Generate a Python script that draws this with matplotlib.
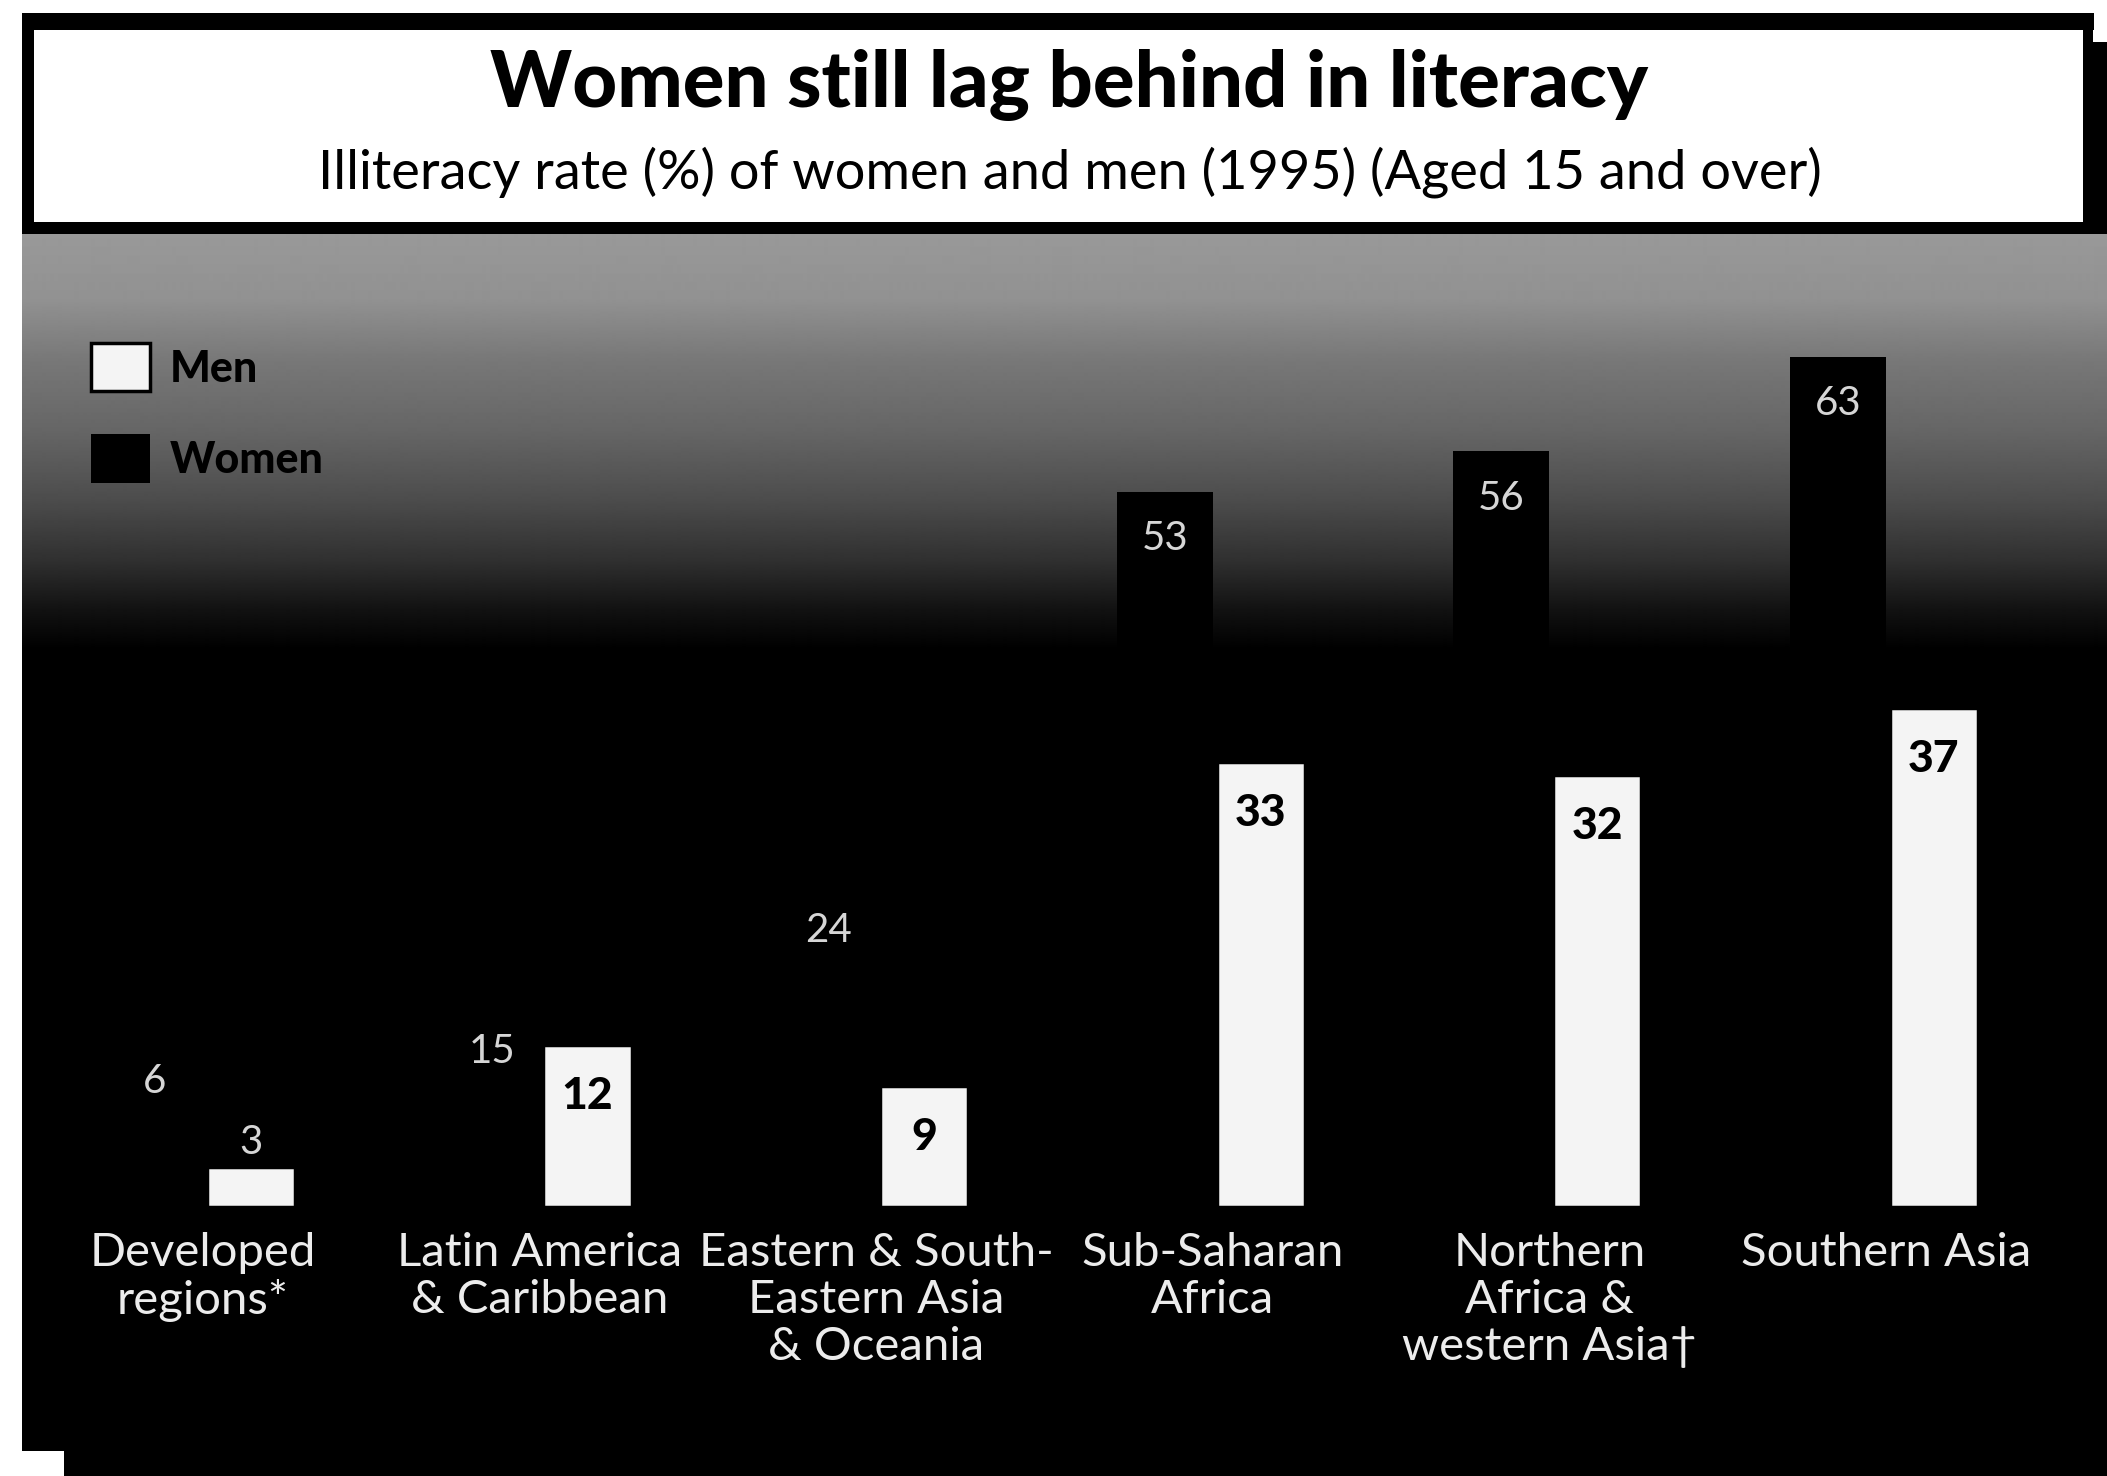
import matplotlib.pyplot as plt
import numpy as np
from matplotlib.patches import Rectangle

# data
regions = ["Developed\nregions*", "Latin America\n& Caribbean",
           "Eastern & South-\nEastern Asia\n& Oceania", "Sub-Saharan\nAfrica",
           "Northern\nAfrica &\nwestern Asia\u2020", "Southern Asia"]
women = [6, 15, 24, 53, 56, 63]
men = [3, 12, 9, 33, 32, 37]

title = "Women still lag behind in literacy"
subtitle = "Illiteracy rate (%) of women and men (1995) (Aged 15 and over)"

W, H = 2107, 1476
FONT = ['Lato', 'DejaVu Sans']
plt.rcParams['font.family'] = FONT

fig = plt.figure(figsize=(W / 100, H / 100), dpi=100)
fig.patch.set_facecolor('white')

# black chart panel under the title box
left_px, top_px = 22, 233
ax = fig.add_axes([left_px / W, 0, 1 - left_px / W, 1 - top_px / H])
ax.set_facecolor('black')

x = np.arange(len(regions))
bw = 0.285
px_per_x, x_first = 336.6, 203
xlim = ((left_px - x_first) / px_per_x, (W - x_first) / px_per_x)
base_px, px_per_pct = 1207, 13.5
ylim = (-(H - base_px) / px_per_pct, (base_px - top_px) / px_per_pct)

# grey halftone that fades to black
rows = np.arange(top_px, H)
shade = np.interp(rows, [233, 300, 360, 430, 500, 560, 610, 650],
                  [0.60, 0.57, 0.47, 0.40, 0.30, 0.19, 0.07, 0.0])
ax.imshow(np.tile(shade[:, None], (1, 2)), cmap='gray', vmin=0, vmax=1,
          extent=[xlim[0], xlim[1], ylim[0], ylim[1]], aspect='auto',
          interpolation='bilinear', zorder=0)

wb = ax.bar(x - bw / 2, women, bw, color='black', label='Women', zorder=2)
mb = ax.bar(x + bw / 2, men, bw * 0.92, color='#f4f4f4', edgecolor='black',
            linewidth=2.5, label='Men', zorder=3)

# value labels
for xi, v in zip(x, women):
    y = v - 3.5 if v >= 10 else v + 3.3
    ax.text(xi - bw / 2, y, str(v), ha='center', va='center',
            color='#d6d6d6', fontsize=29, zorder=4)
for xi, v in zip(x, men):
    if v >= 9:
        ax.text(xi + bw / 2, v - 3.8, str(v), ha='center', va='center',
                color='black', fontsize=32, fontweight='black', zorder=4)
    else:
        ax.text(xi + bw / 2, v + 1.8, str(v), ha='center', va='center',
                color='#d6d6d6', fontsize=29, zorder=4)

# region names under the bars
for xi, name in zip(x, regions):
    ax.text(xi, -1.85, name, ha='center', va='top', color='#ececec',
            fontsize=34, linespacing=1.15, zorder=4)

ax.legend(handles=[mb, wb], labels=['Men', 'Women'], loc='upper left',
          bbox_to_anchor=((91 - left_px) / (W - left_px), (H - 343) / (H - top_px)),
          frameon=False, borderpad=0, borderaxespad=0,
          handlelength=1.37, handleheight=1.35, handletextpad=0.45,
          labelspacing=1.0, prop={'family': FONT, 'weight': 'black', 'size': 31})

ax.set_xlim(xlim)
ax.set_ylim(ylim)
ax.set_xticks([])
ax.set_yticks([])
for s in ax.spines.values():
    s.set_visible(False)

# title box drawn in pixel coordinates
deco = fig.add_axes([0, 0, 1, 1], facecolor='none')
deco.set_xlim(0, W)
deco.set_ylim(H, 0)
deco.axis('off')
deco.add_patch(Rectangle((30, 22), 2060, 206, facecolor='white', edgecolor='none'))
for bx, by, bwid, bh in [(22, 13, 2072, 17), (22, 222, 2085, 12), (22, 13, 12, 221),
                         (2083, 22, 10, 206), (2093, 42, 14, 192)]:
    deco.add_patch(Rectangle((bx, by), bwid, bh, color='black', lw=0))
deco.add_patch(Rectangle((0, 1451), 64, 25, color='white', lw=0))
deco.text(1069, 107, title, ha='center', va='baseline', fontsize=56, fontweight='black')
deco.text(1070, 188, subtitle, ha='center', va='baseline', fontsize=39)

fig.savefig('out.png', dpi=100)
